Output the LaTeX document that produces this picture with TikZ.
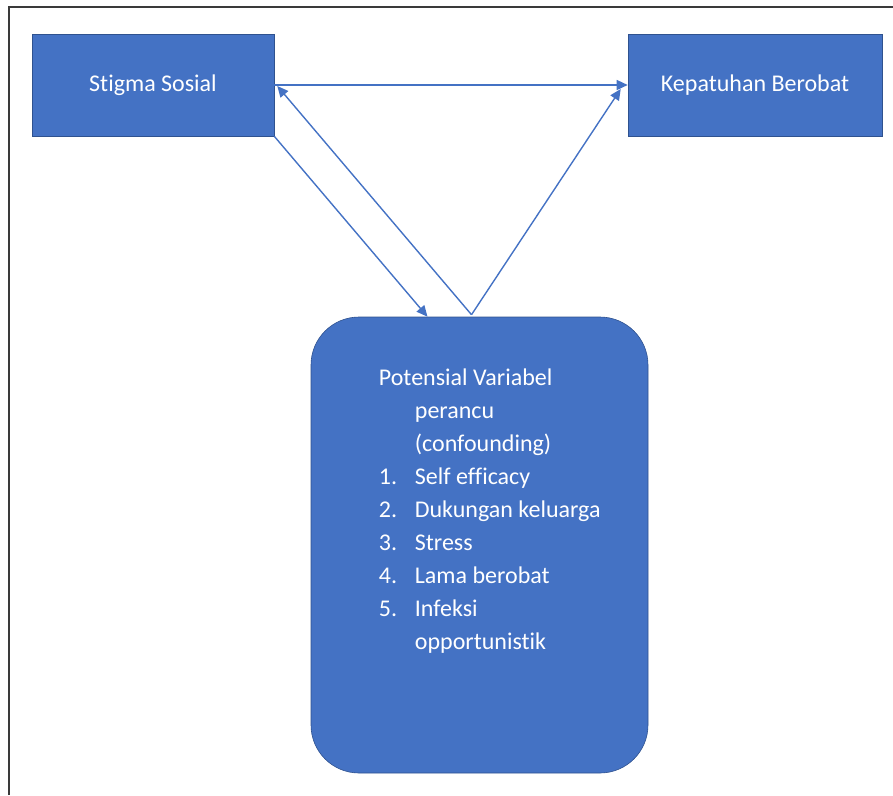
\documentclass[tikz,border=0pt]{standalone}
\usepackage{fontspec}
\setmainfont[Ligatures=NoCommon]{Carlito}
\usetikzlibrary{positioning, arrows.meta}
\definecolor{officeblue}{HTML}{4472C4}
\definecolor{edgeblue}{HTML}{2F528F}
\definecolor{framegray}{HTML}{3A3A3A}
\tikzset{
  varbox/.style={rectangle, fill=officeblue, draw=edgeblue, line width=0.6pt,
    text=white, font=\fontsize{24}{29}\selectfont},
  conbox/.style={rectangle, rounded corners=48pt, fill=officeblue, draw=edgeblue,
    line width=0.6pt},
  arr/.style={draw=officeblue, line width=1.4pt,
    -{Triangle[length=11pt,width=10pt]}}
}
\begin{document}
\begin{tikzpicture}[x=1pt,y=-1pt]
    \useasboundingbox (0,0) rectangle (893,795);
    \draw[framegray, line width=2pt] (9,795) -- (9,7) -- (893,7);

    \node[varbox, minimum width=242pt, minimum height=102pt] (stigma) at (153,85) {Stigma Sosial};
    \node[varbox, minimum width=254pt, minimum height=102pt] (patuh) at (755,85) {Kepatuhan Berobat};
    \node[conbox, minimum width=337pt, minimum height=456pt] (perancu) at (479.5,545) {};

    \node[anchor=north west, inner sep=0pt, text=white,
          font=\fontsize{24}{33}\selectfont]
          (daftar) at ([xshift=68pt,yshift=-45pt]perancu.north west)
      {\begin{tabular}{@{}p{36pt}@{}l@{}}
         \multicolumn{2}{@{}l@{}}{Potensial Variabel}\\
            & perancu\\
            & (confounding)\\
         1. & Self efficacy\\
         2. & Dukungan keluarga\\
         3. & Stress\\
         4. & Lama berobat\\
         5. & Infeksi\\
            & opportunistik
       \end{tabular}};

    \coordinate (puncak) at ([xshift=-8pt,yshift=2pt]perancu.north);
    \coordinate (masuk) at ([xshift=-52pt]perancu.north);

    \draw[arr] (stigma.east) -- (patuh.west);
    \draw[arr] (stigma.south east) -- (masuk);
    \draw[arr] (puncak) -- ([xshift=3pt,yshift=-1pt]stigma.east);
    \draw[arr] (puncak) -- ([xshift=-7pt,yshift=-4pt]patuh.west);
\end{tikzpicture}
\end{document}
